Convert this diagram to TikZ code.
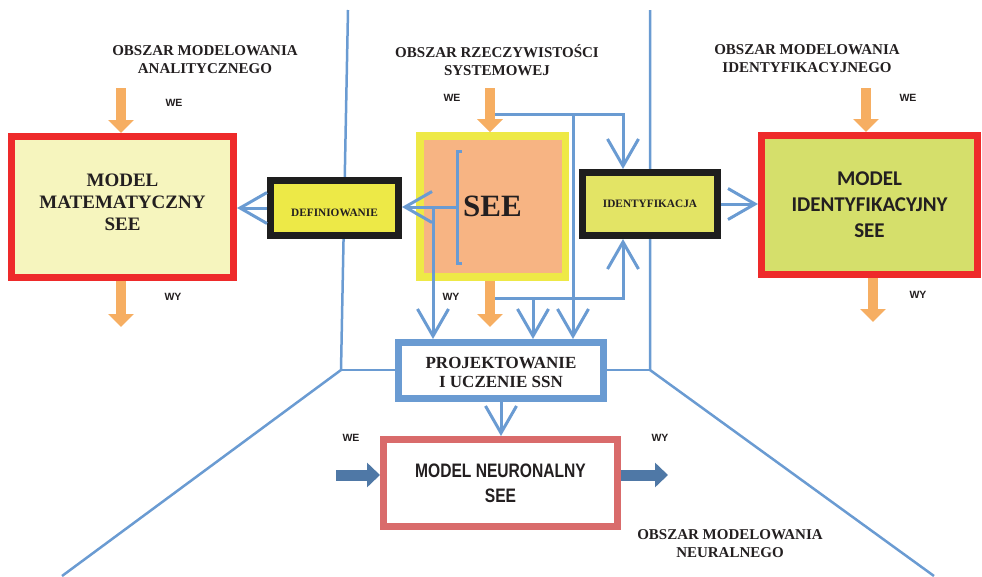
\documentclass[tikz,border=0pt]{standalone}
\usepackage{fontspec}
\setmainfont{Liberation Serif}
\newfontfamily\narrowsans[FakeStretch=0.8]{Liberation Sans}
\newfontfamily\plainsans{Liberation Sans}
\newfontfamily\calibrilike{Carlito}
\usetikzlibrary{arrows.meta}

\definecolor{frameblue}{HTML}{6A9BD2}
\definecolor{boxred}{HTML}{EE2A2A}
\definecolor{mathfill}{HTML}{F6F5BE}
\definecolor{identfill}{HTML}{D5DF6B}
\definecolor{seeyellow}{HTML}{EEE946}
\definecolor{seesalmon}{HTML}{F7B483}
\definecolor{deffill}{HTML}{EDE947}
\definecolor{idfill}{HTML}{E3E465}
\definecolor{procblack}{HTML}{1E1E1E}
\definecolor{neurred}{HTML}{D96B6B}
\definecolor{iodark}{HTML}{4F78A6}
\definecolor{ioorange}{HTML}{F6AE62}
\definecolor{inktext}{HTML}{231F20}

% shift a text block inside its box without changing the box size
\newcommand\dropby[2]{\raisebox{-#1}[\height][\depth]{#2}}
% centred lines stacked with the current baseline skip
\newcommand\lines[1]{\begin{tabular}{@{}c@{}}#1\end{tabular}}

\begin{document}
\begin{tikzpicture}[x=1pt,y=-1pt,
  every node/.style={text=inktext},
  region/.style={font=\bfseries\fontsize{15}{18}\selectfont, align=center},
  iolabel/.style={font=\plainsans\bfseries\fontsize{10.5}{12}\selectfont},
  modelbox/.style={draw=boxred, line width=7pt, align=center},
  procbox/.style={draw=procblack, line width=7pt, font=\bfseries\fontsize{11.3}{13}\selectfont},
  conn/.style={draw=frameblue, line width=3pt},
  barb/.style={-{Straight Barb[length=27pt,width=31pt]}},
  frameline/.style={draw=frameblue, line width=2.5pt},
  orangeio/.style={draw=ioorange, line width=9.5pt, -{Triangle[length=13pt,width=25pt]}},
  neurio/.style={draw=iodark, line width=11pt, -{Triangle[length=13pt,width=24pt]}},
]
\useasboundingbox (0,0) rectangle (982,576);

% region borders
\coordinate (fL1) at (348,10);
\coordinate (fL2) at (341,370);
\coordinate (fL3) at (62,576);
\coordinate (fR1) at (650,10);
\coordinate (fR2) at (650,370);
\coordinate (fR3) at (934,576);
\draw[frameline] (fL1) -- (fL2) -- (fL3);
\draw[frameline] (fR1) -- (fR2) -- (fR3);

% region titles
\node[region] (tAnal) at (205,60) {OBSZAR MODELOWANIA\\ANALITYCZNEGO};
\node[region] (tReal) at (497,60) {OBSZAR RZECZYWISTOŚCI\\SYSTEMOWEJ};
\node[region] (tIdent) at (807,59) {OBSZAR MODELOWANIA\\IDENTYFIKACYJNEGO};
\node[region] (tNeur) at (730,544) {OBSZAR MODELOWANIA\\NEURALNEGO};

% models
\node[modelbox, fill=mathfill, minimum width=222pt, minimum height=141pt,
      font=\bfseries\fontsize{19}{22}\selectfont] (math) at (122.5,207)
      {\dropby{-2.5pt}{\lines{MODEL\\MATEMATYCZNY\\SEE}}};
\node[modelbox, fill=identfill, minimum width=216pt, minimum height=139pt,
      font=\calibrilike\bfseries\fontsize{21}{26}\selectfont] (idmodel) at (869.5,205)
      {MODEL\\IDENTYFIKACYJNY\\SEE};

% the real system
\node[draw=seeyellow, line width=7.5pt, fill=seesalmon, minimum width=145.5pt,
      minimum height=141pt, font=\bfseries\fontsize{31}{31}\selectfont] (see) at (492.5,206.4) {SEE};

% processes
\node[procbox, fill=deffill, minimum width=128pt, minimum height=55pt] (def) at (334.5,208)
      {\dropby{5pt}{DEFINIOWANIE}};
\node[procbox, fill=idfill, minimum width=135pt, minimum height=63pt] (idf) at (650,204)
      {IDENTYFIKACJA};
\node[draw=frameblue, line width=7pt, fill=white, minimum width=205pt, minimum height=56pt,
      font=\bfseries\fontsize{17}{19}\selectfont] (proj) at (501,370.5)
      {\dropby{3.5pt}{\lines{PROJEKTOWANIE\\I UCZENIE SSN}}};
\node[draw=neurred, line width=7pt, fill=white, minimum width=234pt, minimum height=87pt,
      align=center, font=\narrowsans\bfseries\fontsize{19.5}{25}\selectfont] (neur) at (500.5,483)
      {MODEL NEURONALNY\\SEE};

% links from the region borders to the design block
\draw[frameline] (fL2) -- (fL2 -| proj.west);
\draw[frameline] (fR2 -| proj.east) -- (fR2);

% bracket over the system
\coordinate (brTop) at (462,151);
\coordinate (brBot) at (462,263);
\coordinate (brMid) at (457,207);
\draw[conn] (brTop) -- (457,151) -- (457,263) -- (brBot);
\draw[conn, barb] (brMid) -- (brMid -| def.east);
\coordinate (seeDrop) at (433,207);
\draw[conn, barb] (seeDrop) -- (seeDrop |- proj.north);

% input signal taps
\coordinate (weTap) at (491,114);
\coordinate (weJoint) at (573,114);
\coordinate (idIn) at (623,114);
\draw[conn, barb] (weTap) -- (idIn) -- (idIn |- idf.north);
\draw[conn, barb] (weJoint) -- (weJoint |- proj.north);

% output signal taps
\coordinate (wyTap) at (491,298);
\coordinate (wyJoint) at (533,298);
\coordinate (idBack) at (623,298);
\draw[conn, barb] (wyTap) -- (idBack) -- (idBack |- idf.south);
\draw[conn, barb] (wyJoint) -- (wyJoint |- proj.north);

% process results
\draw[conn, barb] (def.west) -- (def.west -| math.east);
\draw[conn, barb] (idf.east) -- (idf.east -| idmodel.west);
\draw[conn, barb] (proj.south) -- (proj.south |- neur.north);

% inputs and outputs of the models
\coordinate (mathIn) at (121,88);
\coordinate (mathOut) at (121,327);
\coordinate (seeIn) at (490,88);
\coordinate (seeOut) at (490,327);
\coordinate (idIn2) at (866,88);
\coordinate (idOut) at (873,322);
\draw[orangeio] (mathIn) -- (mathIn |- math.north);
\draw[orangeio] (mathOut |- math.south) -- (mathOut);
\draw[orangeio] (seeIn) -- (seeIn |- see.north);
\draw[orangeio] (seeOut |- see.south) -- (seeOut);
\draw[orangeio] (idIn2) -- (idIn2 |- idmodel.north);
\draw[orangeio] (idOut |- idmodel.south) -- (idOut);

\coordinate (nnIn) at (336,475);
\coordinate (nnOut) at (668,475);
\draw[neurio] (nnIn) -- (nnIn -| neur.west);
\draw[neurio] (nnOut -| neur.east) -- (nnOut);

% signal labels
\node[iolabel] (lWE1) at (174,103) {WE};
\node[iolabel] (lWY1) at (173,297) {WY};
\node[iolabel] (lWE2) at (452,98) {WE};
\node[iolabel] (lWY2) at (451,297) {WY};
\node[iolabel] (lWE3) at (908,98) {WE};
\node[iolabel] (lWY3) at (918,295) {WY};
\node[iolabel] (lWE4) at (351,438) {WE};
\node[iolabel] (lWY4) at (660,438) {WY};
\end{tikzpicture}
\end{document}
